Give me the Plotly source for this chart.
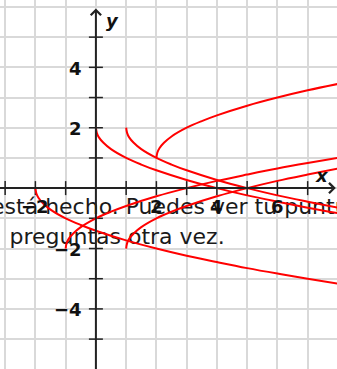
import plotly.graph_objects as go

# ---- data ----
c1_x = [0, 0.03, 0.1, 0.25, 0.5, 1, 1.5, 2, 3, 4, 5, 6, 7, 8]
c1_y = [2, 1.83, 1.68, 1.5, 1.29, 1, 0.78, 0.59, 0.27, 0, -0.24, -0.45, -0.65, -0.83]
c2_x = [1, 1.03, 1.1, 1.25, 1.5, 2, 2.5, 3, 4, 5, 6, 7, 8]
c2_y = [2, 1.83, 1.68, 1.5, 1.29, 1, 0.78, 0.59, 0.27, 0, -0.24, -0.45, -0.65]
c3_x = [2, 2.03, 2.1, 2.25, 2.5, 3, 3.5, 4, 5, 6, 7, 8]
c3_y = [1, 1.17, 1.32, 1.5, 1.71, 2, 2.22, 2.41, 2.73, 3, 3.24, 3.45]
c4_x = [-2, -1.97, -1.9, -1.75, -1.5, -1, -0.5, 0, 1, 2, 3, 4, 5, 6, 7, 8]
c4_y = [0, -0.17, -0.32, -0.5, -0.71, -1, -1.22, -1.41, -1.73, -2, -2.24, -2.45, -2.65, -2.83, -3, -3.16]
c5_x = [-1, -0.97, -0.9, -0.75, -0.5, 0, 0.5, 1, 2, 3, 4, 5, 6, 7, 8]
c5_y = [-2, -1.83, -1.68, -1.5, -1.29, -1, -0.78, -0.59, -0.27, 0, 0.24, 0.45, 0.65, 0.83, 1]
c6_x = [1, 1.03, 1.1, 1.25, 1.5, 2, 2.5, 3, 4, 5, 6, 7, 8]
c6_y = [-2, -1.83, -1.68, -1.5, -1.29, -1, -0.78, -0.59, -0.27, 0, 0.24, 0.45, 0.65]

curves = [(c1_x, c1_y), (c2_x, c2_y), (c3_x, c3_y), (c4_x, c4_y), (c5_x, c5_y), (c6_x, c6_y)]

x_tick_vals = [-2, 2, 4, 6]
x_tick_text = ["\u22122", "2", "4", "6"]
y_tick_vals = [4, 2, -2, -4]
y_tick_text = ["4", "2", "\u22122", "\u22124"]
x_marks = [-3, -2, -1, 1, 2, 3, 4, 5, 6, 7]
y_marks = [-5, -4, -3, -2, -1, 1, 2, 3, 4, 5]

msg_line1 = "está hecho. Puedes ver tu puntuación"
msg_line2 = "preguntas otra vez."

X_RANGE = [-3.17, 7.97]
Y_RANGE = [-5.99, 6.23]
AXIS_COLOR = "#222222"
FONT = "DejaVu Sans"

fig = go.Figure()

# background message text (under the curves)
fig.add_trace(go.Scatter(x=[3.42], y=[-0.68], mode="text", text=[msg_line1],
                         textposition="middle center", cliponaxis=False,
                         textfont=dict(family=FONT, size=22, color="#1a1a1a"),
                         hoverinfo="skip"))
fig.add_trace(go.Scatter(x=[0.70], y=[-1.66], mode="text", text=[msg_line2],
                         textposition="middle center", cliponaxis=False,
                         textfont=dict(family=FONT, size=22, color="#1a1a1a"),
                         hoverinfo="skip"))

# tick marks
fig.add_trace(go.Scatter(x=x_marks, y=[0] * len(x_marks), mode="markers",
                         marker=dict(symbol="line-ns", size=10,
                                     line=dict(width=1.5, color=AXIS_COLOR)),
                         hoverinfo="skip"))
fig.add_trace(go.Scatter(x=[0] * len(y_marks), y=y_marks, mode="markers",
                         marker=dict(symbol="line-ew", size=10,
                                     line=dict(width=1.5, color=AXIS_COLOR)),
                         hoverinfo="skip"))

for cx, cy in curves:
    fig.add_trace(go.Scatter(x=cx, y=cy, mode="lines",
                             line=dict(color="#ff0000", width=2, shape="spline"),
                             cliponaxis=True, hoverinfo="skip"))

annotations = []
# axes with arrows
annotations.append(dict(x=7.93, y=0, ax=-3.4, ay=0, xref="x", yref="y", axref="x", ayref="y",
                        showarrow=True, arrowhead=4, arrowsize=1, arrowwidth=2,
                        arrowcolor=AXIS_COLOR, text="", standoff=0, startstandoff=0))
annotations.append(dict(x=0, y=5.95, ax=0, ay=-6.2, xref="x", yref="y", axref="x", ayref="y",
                        showarrow=True, arrowhead=4, arrowsize=1, arrowwidth=2,
                        arrowcolor=AXIS_COLOR, text="", standoff=0, startstandoff=0))
# tick labels
for v, t in zip(x_tick_vals, x_tick_text):
    annotations.append(dict(x=v, y=0, xref="x", yref="y", text=t, showarrow=False,
                            xanchor="center", yanchor="middle", yshift=-18,
                            font=dict(family=FONT, size=18, color="#111111", weight="bold")))
for v, t in zip(y_tick_vals, y_tick_text):
    annotations.append(dict(x=0, y=v, xref="x", yref="y", text=t, showarrow=False,
                            xanchor="right", yanchor="middle", xshift=-12, yshift=-1,
                            font=dict(family=FONT, size=18, color="#111111", weight="bold")))
# axis names
annotations.append(dict(x=0, y=Y_RANGE[1], xref="x", yref="y", text="<b><i>y</i></b>",
                        showarrow=False, xanchor="center", yanchor="middle",
                        xshift=17, yshift=-20,
                        font=dict(family=FONT, size=18, color="#111111")))
annotations.append(dict(x=X_RANGE[1], y=0, xref="x", yref="y", text="<b><i>x</i></b>",
                        showarrow=False, xanchor="center", yanchor="middle",
                        xshift=-15, yshift=13,
                        font=dict(family=FONT, size=18, color="#111111")))

fig.update_layout(
    width=337, height=369,
    margin=dict(l=0, r=0, t=0, b=0),
    paper_bgcolor="white", plot_bgcolor="white",
    showlegend=False,
    annotations=annotations,
    xaxis=dict(range=X_RANGE, dtick=1, tick0=0, showgrid=True, gridcolor="#d9d9d9",
               gridwidth=1.5, zeroline=False, showticklabels=False, ticks="",
               showline=False, fixedrange=True),
    yaxis=dict(range=Y_RANGE, dtick=1, tick0=0, showgrid=True, gridcolor="#d9d9d9",
               gridwidth=1.5, zeroline=False, showticklabels=False, ticks="",
               showline=False, fixedrange=True),
)

fig.write_html("out.html", config={"displayModeBar": False},
               post_script="document.body.style.margin='0';document.body.style.overflow='hidden';")
